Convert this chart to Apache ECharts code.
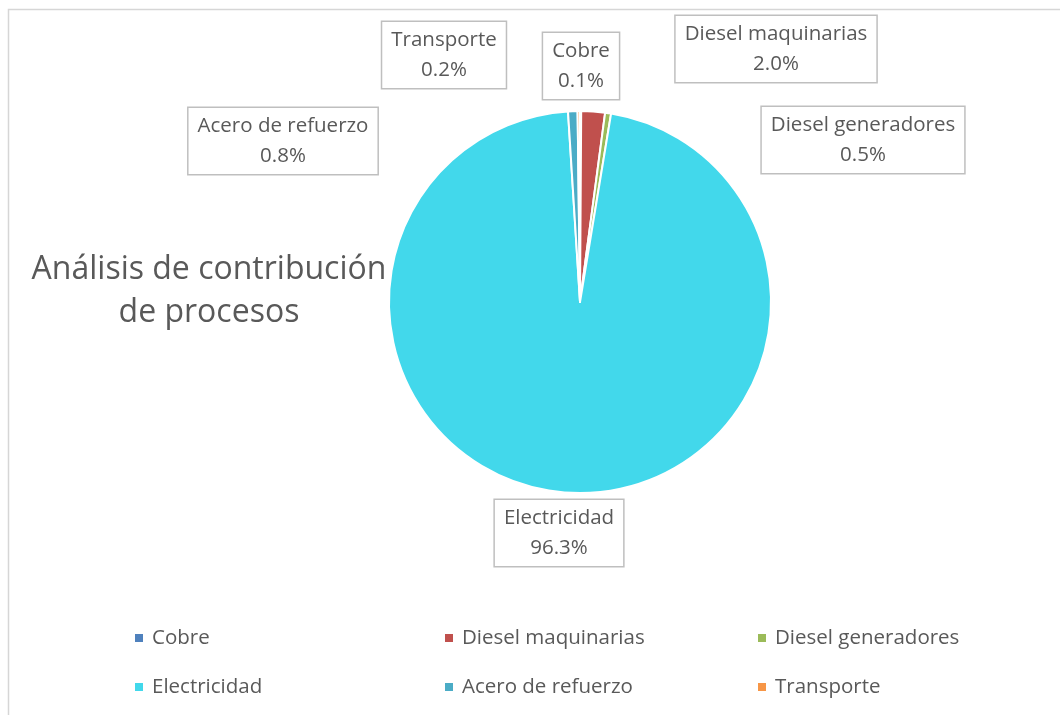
<!DOCTYPE html>
<html>
<head>
<meta charset="utf-8">
<script src="https://cdn.jsdelivr.net/npm/echarts@6/dist/echarts.min.js"></script>
<style>
  html, body { margin: 0; padding: 0; background: #fff; }
  #pieChart { width: 1060px; height: 715px; }
</style>
</head>
<body>
<div id="pieChart"></div>
<script>
// data (percent of total)
const categories = ['Cobre', 'Diesel maquinarias', 'Diesel generadores', 'Electricidad', 'Acero de refuerzo', 'Transporte'];
const shares = [0.1, 2.0, 0.5, 96.3, 0.8, 0.2];

const colors = ['#4F81BD', '#C0504D', '#9BBB59', '#42D8EB', '#4BACC6', '#F79646'];
// label box centres (the labels were dragged by hand in the original)
const labelSpots = [[581, 66], [776, 49], [863, 140], [559, 533], [283, 141], [444, 55]];

const font = '"Open Sans", "Noto Sans", sans-serif';
const grey = '#595959';

const chart = echarts.init(document.getElementById('pieChart'));

const legendCol = (names, left) => ({
  orient: 'vertical',
  left: left,
  top: 622,
  data: names,
  icon: 'rect',
  itemWidth: 10,
  itemHeight: 10,
  itemGap: 27,
  textStyle: { color: grey, fontSize: 20.5, fontFamily: font, lineHeight: 22, padding: [0, 0, 0, 3] },
  selectedMode: false
});

const option = {
  color: colors,
  animation: false,
  title: {
    text: 'Análisis de contribución\nde procesos',
    left: 204,
    top: 243,
    textAlign: 'center',
    textStyle: { color: grey, fontSize: 32, fontWeight: 'normal', fontFamily: font, lineHeight: 43 }
  },
  legend: [
    legendCol([categories[0], categories[3]], 128),
    legendCol([categories[1], categories[4]], 438),
    legendCol([categories[2], categories[5]], 751)
  ],
  graphic: [{
    type: 'rect',
    shape: { x: 8.5, y: 9.5, width: 1070, height: 720 },
    style: { fill: 'none', stroke: '#D6D6D6', lineWidth: 1.5 },
    silent: true
  }],
  series: [{
    type: 'pie',
    center: [580, 302],
    radius: 191,
    startAngle: 90,
    clockwise: true,
    avoidLabelOverlap: false,
    itemStyle: { borderColor: '#fff', borderWidth: 2 },
    label: {
      show: true,
      position: 'outside',
      formatter: p => p.name + '\n' + p.value.toFixed(1) + '%',
      color: grey,
      fontSize: 20.5,
      fontFamily: font,
      lineHeight: 30,
      align: 'center',
      backgroundColor: '#fff',
      borderColor: '#BFBFBF',
      borderWidth: 1.5,
      padding: [3, 9]
    },
    labelLine: { show: false },
    labelLayout: p => ({
      x: labelSpots[p.dataIndex][0],
      y: labelSpots[p.dataIndex][1],
      align: 'center',
      verticalAlign: 'middle'
    }),
    emphasis: { disabled: true },
    data: categories.map((name, i) => ({ name: name, value: shares[i] }))
  }]
};

chart.setOption(option);
</script>
</body>
</html>
